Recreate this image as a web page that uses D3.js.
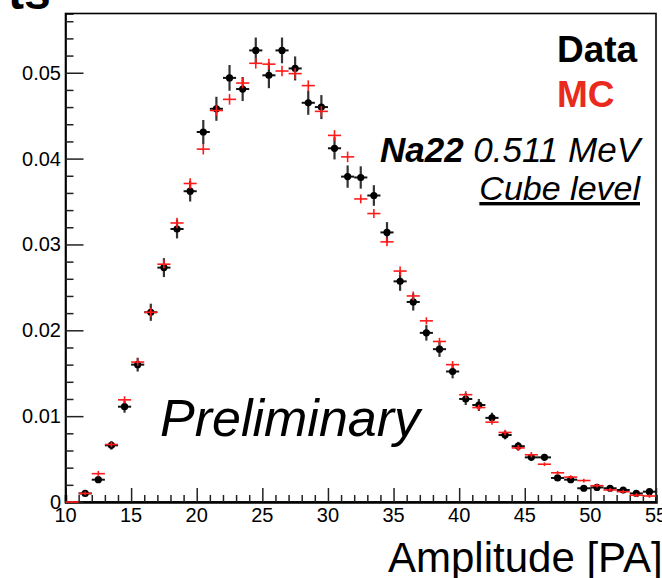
<!DOCTYPE html>
<html>
<head>
<meta charset="utf-8">
<script src="https://cdn.jsdelivr.net/npm/d3@7"></script>
<style>
  body { margin: 0; background: #fff; }
  svg { display: block; font-family: "Liberation Sans", Arial, sans-serif; }
</style>
</head>
<body>
<div class="svg"></div>
<script>
// bin centres (bin width 1 PA)
var dataX = [11.5, 12.5, 13.5, 14.5, 15.5, 16.5, 17.5, 18.5, 19.5, 20.5, 21.5, 22.5, 23.5, 24.5, 25.5,
  26.5, 27.5, 28.5, 29.5, 30.5, 31.5, 32.5, 33.5, 34.5, 35.5, 36.5, 37.5, 38.5, 39.5, 40.5,
  41.5, 42.5, 43.5, 44.5, 45.5, 46.5, 47.5, 48.5, 49.5, 50.5, 51.5, 52.5, 53.5, 54.5];
var dataY = [0.0010, 0.0026, 0.0066, 0.0111, 0.0160, 0.0221, 0.0273, 0.0318, 0.0362, 0.0431, 0.0458, 0.0494, 0.0481, 0.0526, 0.0497,
  0.0526, 0.0505, 0.0465, 0.0460, 0.0412, 0.0379, 0.0378, 0.0357, 0.0314, 0.0257, 0.0233, 0.0197, 0.0178, 0.0152, 0.0120,
  0.0113, 0.0098, 0.0078, 0.0065, 0.0052, 0.0052, 0.0028, 0.0026, 0.0016, 0.0017, 0.0016, 0.0014, 0.0010, 0.0012];
var dataErr = [0.0002, 0.0003, 0.0005, 0.0007, 0.0008, 0.0010, 0.0011, 0.0011, 0.0012, 0.0014, 0.0014, 0.0015, 0.0014, 0.0015, 0.0015,
  0.0015, 0.0014, 0.0014, 0.0014, 0.0013, 0.0013, 0.0013, 0.0012, 0.0012, 0.0011, 0.0010, 0.0009, 0.0009, 0.0008, 0.0007,
  0.0007, 0.0006, 0.0005, 0.0005, 0.0004, 0.0004, 0.0003, 0.0003, 0.0002, 0.0002, 0.0002, 0.0002, 0.0002, 0.0002];

var mcX = [10.5, 11.5, 12.5, 13.5, 14.5, 15.5, 16.5, 17.5, 18.5, 19.5, 20.5, 21.5, 22.5, 23.5, 24.5, 25.5,
  26.5, 27.5, 28.5, 29.5, 30.5, 31.5, 32.5, 33.5, 34.5, 35.5, 36.5, 37.5, 38.5, 39.5, 40.5,
  41.5, 42.5, 43.5, 44.5, 45.5, 46.5, 47.5, 48.5, 49.5, 50.5, 51.5, 52.5, 53.5, 54.5];
var mcY = [0, 0.0010, 0.0033, 0.0067, 0.0119, 0.0163, 0.0221, 0.0277, 0.0325, 0.0371, 0.0411, 0.0456, 0.0469, 0.0488, 0.0511, 0.0510,
  0.0502, 0.0499, 0.0485, 0.0455, 0.0427, 0.0402, 0.0353, 0.0336, 0.0303, 0.0269, 0.0240, 0.0211, 0.0187, 0.0160, 0.0125,
  0.0110, 0.0093, 0.0081, 0.0063, 0.0055, 0.0044, 0.0034, 0.0029, 0.0025, 0.0019, 0.0014, 0.0012, 0.0008, 0.0007];
var mcErr = [0, 0.0001, 0.0002, 0.0002, 0.0003, 0.0003, 0.0004, 0.0004, 0.0005, 0.0005, 0.0005, 0.0005, 0.0005, 0.0005, 0.0005, 0.0005,
  0.0005, 0.0005, 0.0005, 0.0005, 0.0005, 0.0005, 0.0004, 0.0004, 0.0004, 0.0004, 0.0004, 0.0003, 0.0003, 0.0003, 0.0003,
  0.0002, 0.0002, 0.0002, 0.0002, 0.0002, 0.0001, 0.0001, 0.0001, 0.0001, 0.0001, 0.0001, 0.0001, 0.0001, 0.0001];

var xTicks = [10, 15, 20, 25, 30, 35, 40, 45, 50, 55];
var yTicks = [0, 0.01, 0.02, 0.03, 0.04, 0.05];
var yTickLabels = ['0', '0.01', '0.02', '0.03', '0.04', '0.05'];

function drawPlot() {
  var W = 662, H = 578;
  var pLeft = 65.5, pRight = 656, pTop = 13.5, pBottom = 502;
  var binW = 1;

  var svg = d3.select('div.svg').append('svg')
    .attr('width', W)
    .attr('height', H);

  var x = d3.scaleLinear().domain([10, 55]).range([pLeft, pRight]);
  var y = d3.scaleLinear().domain([0, 0.0569]).range([pBottom, pTop]);

  // cut-off title fragment at the top left
  svg.append('text')
    .attr('x', 8).attr('y', 9)
    .style('font-size', '48px').style('font-weight', 'bold')
    .text('ts');

  // frame
  svg.append('rect')
    .attr('x', pLeft).attr('y', pTop)
    .attr('width', pRight - pLeft).attr('height', pBottom - pTop)
    .style('fill', 'none').style('stroke', '#000').style('stroke-width', 1.6);

  // x axis: major ticks every 5, minor every 1
  var xAxis = d3.axisTop(x).tickValues(d3.range(10, 56, 1))
    .tickSize(7).tickFormat('');
  var gx = svg.append('g').attr('transform', 'translate(0,' + pBottom + ')').call(xAxis);
  gx.selectAll('.tick line').attr('y2', function (d) { return d % 5 === 0 ? -14 : -7; })
    .style('stroke', '#222').style('stroke-width', 1.5);
  gx.select('.domain').style('stroke', '#000').style('stroke-width', 2.5);

  svg.selectAll('text.xlab')
    .data(xTicks)
    .enter().append('text')
    .attr('class', 'xlab')
    .attr('x', function (d) { return x(d); })
    .attr('y', 522)
    .attr('text-anchor', 'middle')
    .style('font-size', '20px')
    .text(function (d) { return d; });

  // y axis: major ticks every 0.01, minor every 0.002
  var yMinor = d3.range(0, 29).map(function (i) { return i * 0.002; });
  var yAxis = d3.axisRight(y).tickValues(yMinor).tickSize(8).tickFormat('');
  var gy = svg.append('g').attr('transform', 'translate(' + pLeft + ',0)').call(yAxis);
  gy.selectAll('.tick line').attr('x2', function (d, i) { return i % 5 === 0 ? 18 : 8; })
    .style('stroke', '#222').style('stroke-width', 1.5);
  gy.select('.domain').style('stroke', '#000').style('stroke-width', 1.6);

  svg.selectAll('text.ylab')
    .data(yTicks)
    .enter().append('text')
    .attr('class', 'ylab')
    .attr('x', 61)
    .attr('y', function (d) { return y(d) + 7; })
    .attr('text-anchor', 'end')
    .style('font-size', '20px')
    .text(function (d, i) { return yTickLabels[i]; });

  // data: black points with error bars
  var gd = svg.append('g');
  var data = dataX.map(function (d, i) { return {x: d, y: dataY[i], e: dataErr[i]}; });
  gd.selectAll('line.h').data(data).enter().append('line')
    .attr('class', 'h')
    .attr('x1', function (d) { return x(d.x - binW / 2); })
    .attr('x2', function (d) { return x(d.x + binW / 2); })
    .attr('y1', function (d) { return y(d.y); })
    .attr('y2', function (d) { return y(d.y); })
    .style('stroke', '#111').style('stroke-width', 2);
  gd.selectAll('line.v').data(data).enter().append('line')
    .attr('class', 'v')
    .attr('x1', function (d) { return x(d.x); })
    .attr('x2', function (d) { return x(d.x); })
    .attr('y1', function (d) { return y(d.y - d.e); })
    .attr('y2', function (d) { return y(d.y + d.e); })
    .style('stroke', '#333').style('stroke-width', 2.2);
  gd.selectAll('circle').data(data).enter().append('circle')
    .attr('cx', function (d) { return x(d.x); })
    .attr('cy', function (d) { return y(d.y); })
    .attr('r', 3.6)
    .style('fill', '#000');

  // MC: red crosses
  var gm = svg.append('g');
  var mc = mcX.map(function (d, i) { return {x: d, y: mcY[i], e: mcErr[i]}; });
  gm.selectAll('line.h').data(mc).enter().append('line')
    .attr('class', 'h')
    .attr('x1', function (d) { return x(d.x - binW / 2); })
    .attr('x2', function (d) { return x(d.x + binW / 2); })
    .attr('y1', function (d) { return y(d.y); })
    .attr('y2', function (d) { return y(d.y); })
    .style('stroke', '#ff1a1a').style('stroke-width', 1.6);
  gm.selectAll('line.v').data(mc).enter().append('line')
    .attr('class', 'v')
    .attr('x1', function (d) { return x(d.x); })
    .attr('x2', function (d) { return x(d.x); })
    .attr('y1', function (d) { return y(d.y - d.e) + 1; })
    .attr('y2', function (d) { return y(d.y + d.e) - 1; })
    .style('stroke', '#ff1a1a').style('stroke-width', 1.6);

  // legend and labels
  svg.append('text').attr('x', 557).attr('y', 62)
    .style('font-size', '37px').style('font-weight', 'bold').text('Data');
  svg.append('text').attr('x', 557).attr('y', 107)
    .style('font-size', '37px').style('font-weight', 'bold').style('fill', '#ea2a1c').text('MC');

  var info = svg.append('text').attr('x', 640).attr('y', 162)
    .attr('text-anchor', 'end')
    .style('font-size', '35px').style('font-style', 'italic');
  info.append('tspan').style('font-weight', 'bold').text('Na22');
  info.append('tspan').text(' 0.511 MeV');

  svg.append('text').attr('x', 640).attr('y', 200)
    .attr('text-anchor', 'end')
    .style('font-size', '34px').style('font-style', 'italic')
    .style('text-decoration', 'underline')
    .text('Cube level');

  svg.append('text').attr('x', 160).attr('y', 436)
    .style('font-size', '52px').style('font-style', 'italic')
    .text('Preliminary');

  svg.append('text').attr('x', 388).attr('y', 572)
    .style('font-size', '42px')
    .text('Amplitude [PA]');
}

drawPlot();
</script>
</body>
</html>
